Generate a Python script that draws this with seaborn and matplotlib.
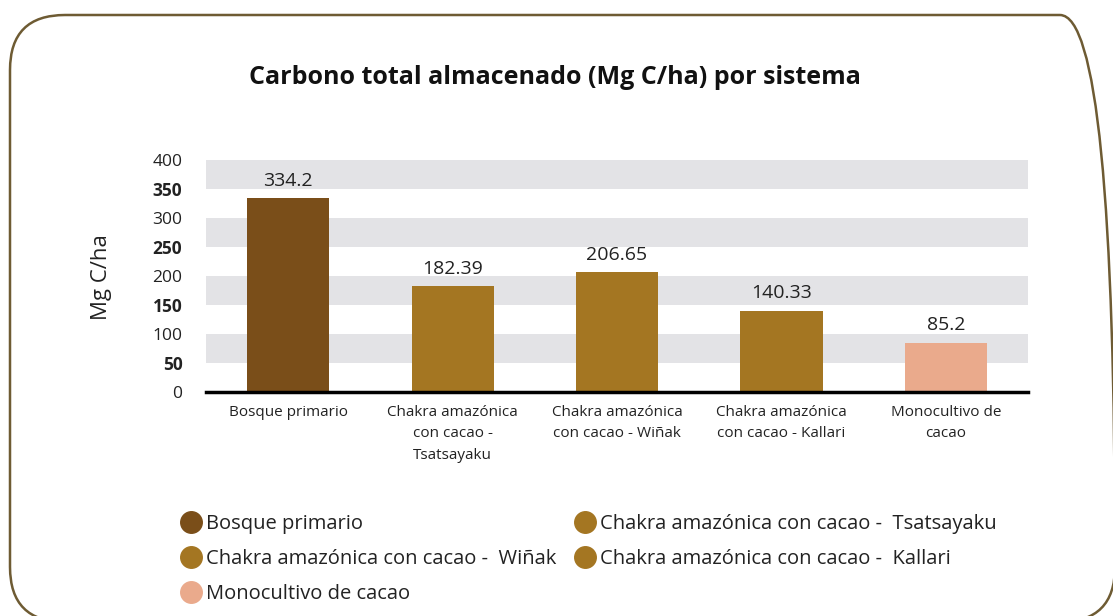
import matplotlib
matplotlib.use("Agg")
import matplotlib.pyplot as plt
from matplotlib.patches import FancyBboxPatch
from matplotlib.lines import Line2D
import seaborn as sns
import pandas as pd

categories = [
    "Bosque primario",
    "Chakra amazónica\ncon cacao -\nTsatsayaku",
    "Chakra amazónica\ncon cacao - Wiñak",
    "Chakra amazónica\ncon cacao - Kallari",
    "Monocultivo de\ncacao",
]
legend_labels = [
    "Bosque primario",
    "Chakra amazónica con cacao -  Tsatsayaku",
    "Chakra amazónica con cacao -  Wiñak",
    "Chakra amazónica con cacao -  Kallari",
    "Monocultivo de cacao",
]
values = [334.2, 182.39, 206.65, 140.33, 85.2]
value_labels = ["334.2", "182.39", "206.65", "140.33", "85.2"]
colors = ["#7A4E19", "#A47622", "#A47622", "#A47622", "#EAAA8C"]
yticks = [0, 50, 100, 150, 200, 250, 300, 350, 400]
title = "Carbono total almacenado (Mg C/ha) por sistema"
ylabel = "Mg C/ha"

sns.set_theme(style="white")
plt.rcParams["font.family"] = ["Open Sans", "DejaVu Sans"]

W, H = 1113, 616
fig = plt.figure(figsize=(W / 100, H / 100), dpi=100)
fig.patch.set_facecolor("white")

# overlay in pixel coordinates (y measured upward) for the rounded frame
bg = fig.add_axes([0, 0, 1, 1], zorder=-5)
bg.set_xlim(0, W)
bg.set_ylim(0, H)
bg.axis("off")
top_px, bot_px, left_px, right_px = 15, 622, 10, 1115
bg.add_patch(FancyBboxPatch((left_px, H - bot_px), right_px - left_px, bot_px - top_px,
                            boxstyle="round,pad=0,rounding_size=55",
                            fill=False, edgecolor="#6E5B33", linewidth=1.8))

ax = fig.add_axes([206 / W, 1 - 392 / H, (1028 - 206) / W, (392 - 160) / H])

df = pd.DataFrame({"cat": categories, "val": values})
sns.barplot(data=df, x="cat", y="val", hue="cat", palette=colors,
            dodge=False, legend=False, width=0.5, ax=ax, saturation=1,
            linewidth=0, edgecolor="none")

for lo in (50, 150, 250, 350):
    ax.axhspan(lo, lo + 50, color="#E3E3E6", zorder=0, lw=0)
ax.set_axisbelow(True)

ax.set_ylim(0, 400)
ax.set_xlim(-0.5, 4.5)
ax.set_yticks(yticks)
ax.set_yticklabels([str(t) for t in yticks])
for i, lab in enumerate(ax.get_yticklabels()):
    lab.set_fontweight("bold" if i % 2 == 1 else "normal")
    lab.set_color("#222222")
ax.tick_params(axis="y", length=0, pad=17, labelsize=12.5)
ax.tick_params(axis="x", length=0, pad=9, labelsize=11)
for lab in ax.get_xticklabels():
    lab.set_linespacing(1.6)
    lab.set_color("#222222")

for s in ("top", "right", "left"):
    ax.spines[s].set_visible(False)
ax.spines["bottom"].set_color("black")
ax.spines["bottom"].set_linewidth(2.5)
ax.spines["bottom"].set_zorder(5)

ax.set_xlabel("")
ax.set_ylabel("")
fig.text(102 / W, 1 - 277 / H, ylabel, rotation=90, ha="center", va="center",
         fontsize=16, color="#222222")

for i, bar_cont in enumerate(ax.containers):
    ax.bar_label(bar_cont, labels=[value_labels[i]] * len(bar_cont), padding=6,
                 fontsize=14, color="#222222")

fig.text(555 / W, 1 - 78 / H, title, ha="center", va="center",
         fontsize=18, fontweight="bold", color="#111111")

handles = [Line2D([], [], marker="o", linestyle="", markersize=15.5,
                  markerfacecolor=c, markeredgecolor=c) for c in colors]
leg_kw = dict(loc="upper left", frameon=False, fontsize=14.5, handletextpad=0.25,
              labelspacing=0.75, handlelength=1.05, borderaxespad=0, borderpad=0)
col1 = [0, 2, 4]
col2 = [1, 3]
leg1 = fig.legend([handles[i] for i in col1], [legend_labels[i] for i in col1],
                  bbox_to_anchor=(180 / W, 1 - 514 / H), **leg_kw)
leg2 = fig.legend([handles[i] for i in col2], [legend_labels[i] for i in col2],
                  bbox_to_anchor=(574 / W, 1 - 514 / H), **leg_kw)
for lg in (leg1, leg2):
    for t in lg.get_texts():
        t.set_color("#222222")

fig.savefig("out.png", dpi=100, facecolor="white")
